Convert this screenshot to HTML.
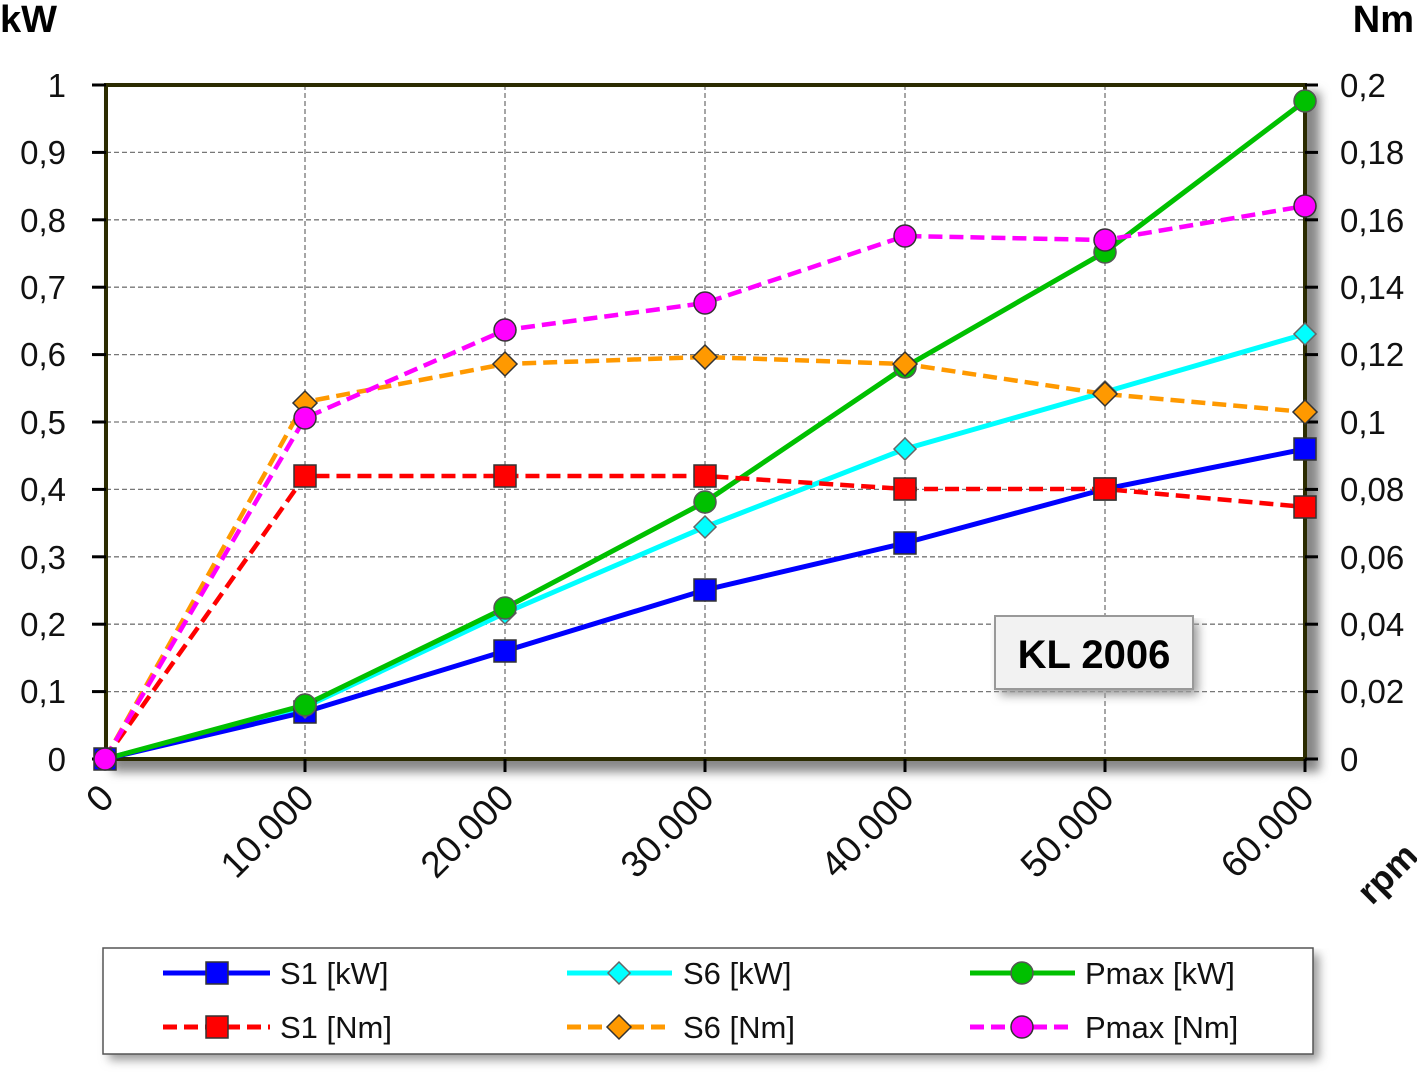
<!DOCTYPE html>
<html><head><meta charset="utf-8"><style>
html,body{margin:0;padding:0;background:#fff;}
svg{display:block;font-family:"Liberation Sans",sans-serif;}
</style></head><body>
<svg width="1417" height="1083" viewBox="0 0 1417 1083" xmlns="http://www.w3.org/2000/svg">
<defs>
<filter id="sh" x="-5%" y="-5%" width="115%" height="120%"><feGaussianBlur stdDeviation="5"/></filter>
</defs>
<rect x="112" y="92" width="1208" height="680" fill="#888" filter="url(#sh)"/>
<rect x="106" y="85" width="1199" height="674" fill="#fff"/>
<g stroke="#777" stroke-width="1.3" stroke-dasharray="5,3">
<line x1="106" y1="152.4" x2="1305" y2="152.4"/><line x1="106" y1="219.8" x2="1305" y2="219.8"/>
<line x1="106" y1="287.2" x2="1305" y2="287.2"/><line x1="106" y1="354.6" x2="1305" y2="354.6"/>
<line x1="106" y1="422" x2="1305" y2="422"/><line x1="106" y1="489.4" x2="1305" y2="489.4"/>
<line x1="106" y1="556.8" x2="1305" y2="556.8"/><line x1="106" y1="624.2" x2="1305" y2="624.2"/>
<line x1="106" y1="691.6" x2="1305" y2="691.6"/>
<line x1="305" y1="85" x2="305" y2="759"/><line x1="505" y1="85" x2="505" y2="759"/>
<line x1="705" y1="85" x2="705" y2="759"/><line x1="905" y1="85" x2="905" y2="759"/>
<line x1="1105" y1="85" x2="1105" y2="759"/>
</g>
<rect x="106" y="85" width="1199" height="674" fill="none" stroke="#2b2b00" stroke-width="4"/>
<g stroke="#000" stroke-width="3">
<line x1="92" y1="85" x2="106" y2="85"/><line x1="92" y1="152.4" x2="106" y2="152.4"/><line x1="92" y1="219.8" x2="106" y2="219.8"/><line x1="92" y1="287.2" x2="106" y2="287.2"/><line x1="92" y1="354.6" x2="106" y2="354.6"/><line x1="92" y1="422" x2="106" y2="422"/><line x1="92" y1="489.4" x2="106" y2="489.4"/><line x1="92" y1="556.8" x2="106" y2="556.8"/><line x1="92" y1="624.2" x2="106" y2="624.2"/><line x1="92" y1="691.6" x2="106" y2="691.6"/><line x1="92" y1="759" x2="106" y2="759"/>
<line x1="1305" y1="85" x2="1318" y2="85"/><line x1="1305" y1="152.4" x2="1318" y2="152.4"/><line x1="1305" y1="219.8" x2="1318" y2="219.8"/><line x1="1305" y1="287.2" x2="1318" y2="287.2"/><line x1="1305" y1="354.6" x2="1318" y2="354.6"/><line x1="1305" y1="422" x2="1318" y2="422"/><line x1="1305" y1="489.4" x2="1318" y2="489.4"/><line x1="1305" y1="556.8" x2="1318" y2="556.8"/><line x1="1305" y1="624.2" x2="1318" y2="624.2"/><line x1="1305" y1="691.6" x2="1318" y2="691.6"/><line x1="1305" y1="759" x2="1318" y2="759"/>
<line x1="305" y1="759" x2="305" y2="772"/><line x1="505" y1="759" x2="505" y2="772"/><line x1="705" y1="759" x2="705" y2="772"/><line x1="905" y1="759" x2="905" y2="772"/><line x1="1105" y1="759" x2="1105" y2="772"/><line x1="1305" y1="759" x2="1305" y2="772"/>
</g>
<g font-size="33" text-anchor="end" fill="#111">
<text x="66" y="97">1</text><text x="66" y="164">0,9</text><text x="66" y="232">0,8</text><text x="66" y="299">0,7</text><text x="66" y="366">0,6</text><text x="66" y="434">0,5</text><text x="66" y="501">0,4</text><text x="66" y="569">0,3</text><text x="66" y="636">0,2</text><text x="66" y="703">0,1</text><text x="66" y="771">0</text>
</g>
<g font-size="33" fill="#111">
<text x="1340" y="97">0,2</text><text x="1340" y="164">0,18</text><text x="1340" y="232">0,16</text><text x="1340" y="299">0,14</text><text x="1340" y="366">0,12</text><text x="1340" y="434">0,1</text><text x="1340" y="501">0,08</text><text x="1340" y="569">0,06</text><text x="1340" y="636">0,04</text><text x="1340" y="703">0,02</text><text x="1340" y="771">0</text>
</g>
<text x="0" y="32" font-size="38" font-weight="bold">kW</text>
<text x="1414" y="32" font-size="38" font-weight="bold" text-anchor="end">Nm</text>
<g font-size="37" fill="#111" text-anchor="end">
<text transform="translate(116,800) rotate(-45)">0</text>
<text transform="translate(316,800) rotate(-45)">10.000</text>
<text transform="translate(516,800) rotate(-45)">20.000</text>
<text transform="translate(716,800) rotate(-45)">30.000</text>
<text transform="translate(916,800) rotate(-45)">40.000</text>
<text transform="translate(1116,800) rotate(-45)">50.000</text>
<text transform="translate(1316,800) rotate(-45)">60.000</text>
<text transform="translate(1420,858) rotate(-45)" font-weight="bold" font-size="36">rpm</text>
</g>
<polyline fill="none" stroke="#00ffff" stroke-width="5" points="105,759 305,707 505,613 705,527 905,449 1105,392 1305,334"/>
<polyline fill="none" stroke="#0000ff" stroke-width="5" points="105,759 305,712 505,651 705,590 905,543 1105,489 1305,449"/>
<polyline fill="none" stroke="#00c000" stroke-width="5" points="105,759 305,705 505,608 705,502 905,367 1105,252 1305,101"/>
<polyline fill="none" stroke="#ff0000" stroke-width="4.5" stroke-dasharray="14,7" points="105,759 305,476 505,476 705,476 905,489 1105,489 1305,507"/>
<polyline fill="none" stroke="#ff9900" stroke-width="4.5" stroke-dasharray="14,7" points="105,759 305,402 505,364 705,357 905,364 1105,394 1305,412"/>
<polyline fill="none" stroke="#ff00ff" stroke-width="4.5" stroke-dasharray="14,7" points="105,759 305,418 505,330 705,303 905,236 1105,240 1305,206"/>
<g fill="#0000ff" stroke="#333" stroke-width="1.5">
<rect x="94" y="748" width="22" height="22"/><rect x="294" y="701" width="22" height="22"/><rect x="494" y="640" width="22" height="22"/><rect x="694" y="579" width="22" height="22"/><rect x="894" y="532" width="22" height="22"/><rect x="1094" y="478" width="22" height="22"/><rect x="1294" y="438" width="22" height="22"/>
</g>
<g fill="#00ffff" stroke="#666" stroke-width="1.5">
<path d="M305,696 l11,11 -11,11 -11,-11z M505,602 l11,11 -11,11 -11,-11z M705,516 l11,11 -11,11 -11,-11z M905,438 l11,11 -11,11 -11,-11z M1105,381 l11,11 -11,11 -11,-11z M1305,323 l11,11 -11,11 -11,-11z"/>
</g>
<g fill="#00c000" stroke="#555" stroke-width="1.5">
<circle cx="305" cy="705" r="11"/><circle cx="505" cy="608" r="11"/><circle cx="705" cy="502" r="11"/><circle cx="905" cy="367" r="11"/><circle cx="1105" cy="252" r="11"/><circle cx="1305" cy="101" r="11"/>
</g>
<g fill="#ff0000" stroke="#333" stroke-width="1.5">
<rect x="294" y="465" width="22" height="22"/><rect x="494" y="465" width="22" height="22"/><rect x="694" y="465" width="22" height="22"/><rect x="894" y="478" width="22" height="22"/><rect x="1094" y="478" width="22" height="22"/><rect x="1294" y="496" width="22" height="22"/>
</g>
<g fill="#ff9900" stroke="#333" stroke-width="1.5">
<path d="M305,391 l12,12 -12,12 -12,-12z M505,352 l12,12 -12,12 -12,-12z M705,345 l12,12 -12,12 -12,-12z M905,352 l12,12 -12,12 -12,-12z M1105,382 l12,12 -12,12 -12,-12z M1305,400 l12,12 -12,12 -12,-12z"/>
</g>
<g fill="#ff00ff" stroke="#333" stroke-width="1.5">
<circle cx="105" cy="759" r="11"/><circle cx="305" cy="418" r="11"/><circle cx="505" cy="330" r="11"/><circle cx="705" cy="303" r="11"/><circle cx="905" cy="236" r="11"/><circle cx="1105" cy="240" r="11"/><circle cx="1305" cy="206" r="11"/>
</g>
<rect x="1000" y="622" width="198" height="73" fill="#999" filter="url(#sh)"/>
<rect x="995" y="616" width="198" height="73" fill="#f2f2f2" stroke="#999" stroke-width="2"/>
<text x="1094" y="668" font-size="40" font-weight="bold" text-anchor="middle">KL 2006</text>
<rect x="109" y="954" width="1210" height="106" fill="#999" filter="url(#sh)"/>
<rect x="103" y="948" width="1210" height="106" fill="#fff" stroke="#555" stroke-width="1.5"/>
<g stroke-width="5">
<line x1="163" y1="973" x2="270" y2="973" stroke="#0000ff"/>
<line x1="567" y1="973" x2="672" y2="973" stroke="#00ffff"/>
<line x1="970" y1="973" x2="1075" y2="973" stroke="#00c000"/>
<line x1="163" y1="1027" x2="270" y2="1027" stroke="#ff0000" stroke-dasharray="14,7"/>
<line x1="567" y1="1027" x2="672" y2="1027" stroke="#ff9900" stroke-dasharray="14,7"/>
<line x1="970" y1="1027" x2="1075" y2="1027" stroke="#ff00ff" stroke-dasharray="14,7"/>
</g>
<rect x="206" y="962" width="22" height="22" fill="#0000ff" stroke="#333" stroke-width="1.5"/>
<path d="M619,962 l11,11 -11,11 -11,-11z" fill="#00ffff" stroke="#666" stroke-width="1.5"/>
<circle cx="1022" cy="973" r="11" fill="#00c000" stroke="#555" stroke-width="1.5"/>
<rect x="206" y="1016" width="22" height="22" fill="#ff0000" stroke="#333" stroke-width="1.5"/>
<path d="M619,1015 l12,12 -12,12 -12,-12z" fill="#ff9900" stroke="#333" stroke-width="1.5"/>
<circle cx="1022" cy="1027" r="11" fill="#ff00ff" stroke="#333" stroke-width="1.5"/>
<g font-size="31" fill="#111">
<text x="280" y="984">S1 [kW]</text><text x="683" y="984">S6 [kW]</text><text x="1085" y="984">Pmax [kW]</text>
<text x="280" y="1038">S1 [Nm]</text><text x="683" y="1038">S6 [Nm]</text><text x="1085" y="1038">Pmax [Nm]</text>
</g>
</svg>
</body></html>
